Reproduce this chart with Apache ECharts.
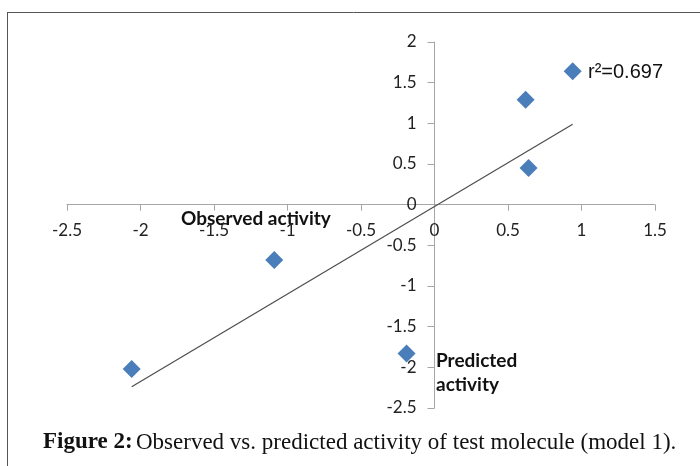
<!DOCTYPE html>
<html>
<head>
<meta charset="utf-8">
<script src="https://cdn.jsdelivr.net/npm/echarts@6/dist/echarts.min.js"></script>
<style>
  html, body { margin: 0; padding: 0; background: #fff; }
  #main { width: 700px; height: 466px; }
</style>
</head>
<body>
<div id="main"></div>
<script>
// observed (x) vs predicted (y) values for the test set
var observed = [0.94, 0.62, 0.64, -1.09, -2.06, -0.19];
var predicted = [1.64, 1.29, 0.45, -0.68, -2.02, -1.83];
// linear trendline end points
var trendX = [-2.06, 0.94];
var trendY = [-2.24, 0.99];
var rSquared = 'r\u00b2=0.697';
var caption = 'Observed vs. predicted activity of test molecule (model 1).';

var dom = document.getElementById('main');
var myChart = echarts.init(dom);

var points = [];
for (var i = 0; i < observed.length; i++) {
    points.push([observed[i], predicted[i]]);
}
var trend = [];
for (var j = 0; j < trendX.length; j++) {
    trend.push([trendX[j], trendY[j]]);
}

var axisFont = { color: '#222', fontFamily: 'Lato', fontSize: 17 };

// axes cross at (0, 0), so shift them into the grid with offset
var gridLeft = 67, gridRight = 45, gridTop = 42, gridBottom = 58;
var xMin = -2.5, xMax = 1.5, yMin = -2.5, yMax = 2;
var gridW = 700 - gridLeft - gridRight;
var gridH = 466 - gridTop - gridBottom;

var option = {
    animation: false,
    grid: { left: gridLeft, right: gridRight, top: gridTop, bottom: gridBottom },
    xAxis: {
        type: 'value',
        min: xMin, max: xMax, interval: 0.5,
        position: 'bottom',
        offset: -gridH * (0 - yMin) / (yMax - yMin),
        axisLine: { onZero: false, lineStyle: { color: '#a6a6a6', width: 1 } },
        axisTick: { show: true, length: 6, lineStyle: { color: '#a6a6a6' } },
        axisLabel: Object.assign({ margin: 17 }, axisFont),
        splitLine: { show: false }
    },
    yAxis: {
        type: 'value',
        min: yMin, max: yMax, interval: 0.5,
        position: 'left',
        offset: -gridW * (0 - xMin) / (xMax - xMin),
        axisLine: { onZero: false, lineStyle: { color: '#a6a6a6', width: 1 } },
        axisTick: { show: true, length: 7, lineStyle: { color: '#a6a6a6' } },
        axisLabel: Object.assign({ margin: 18 }, axisFont),
        splitLine: { show: false }
    },
    series: [
        {
            type: 'line',
            data: trend,
            symbol: 'none',
            lineStyle: { color: '#4d4d4d', width: 1.2 },
            z: 1
        },
        {
            type: 'scatter',
            data: points,
            symbol: 'diamond',
            symbolSize: 18,
            itemStyle: { color: '#4A7EBB', opacity: 1 },
            z: 2
        }
    ],
    graphic: [
        { type: 'line', shape: { x1: 7, y1: 12.5, x2: 700, y2: 12.5 }, style: { stroke: '#555', lineWidth: 1 } },
        { type: 'line', shape: { x1: 7.5, y1: 12, x2: 7.5, y2: 466 }, style: { stroke: '#555', lineWidth: 1 } },
        { type: 'text', left: 181, top: 209, style: { text: 'Observed activity', font: 'bold 19px Lato', fill: '#111' } },
        { type: 'text', left: 436, top: 349, style: { text: 'Predicted\nactivity', font: 'bold 19px Lato', fill: '#111', lineHeight: 24 } },
        { type: 'text', left: 588, top: 62, style: { text: rSquared, font: '20px "Liberation Sans"', fill: '#111' } },
        {
            type: 'text', left: 43, top: 431,
            style: {
                rich: {
                    b: { font: 'bold 23px "Liberation Serif"', fill: '#111' },
                    n: { font: '23px "Liberation Serif"', fill: '#111' }
                },
                text: '{b|Figure 2:} {n|' + caption + '}'
            }
        }
    ]
};

myChart.setOption(option);
</script>
</body>
</html>
